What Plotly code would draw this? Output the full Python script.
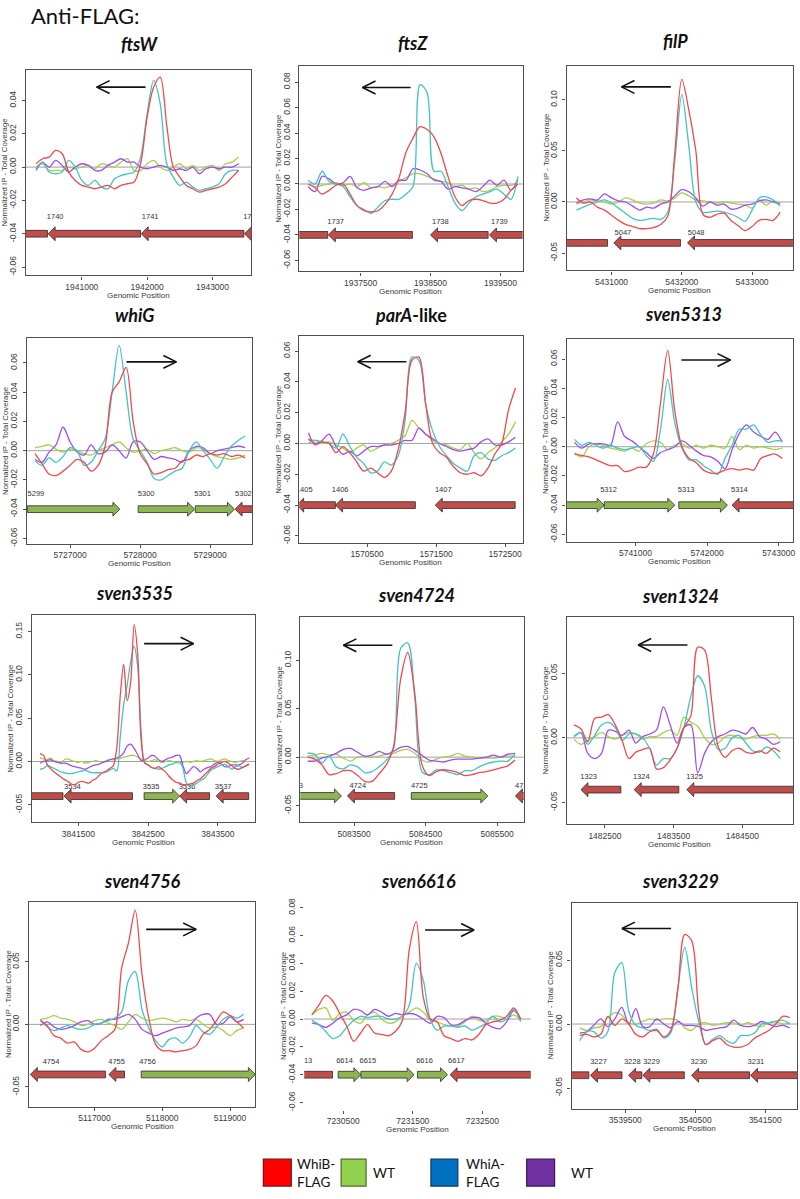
import plotly.graph_objects as go

W, H = 800, 1199

# ======================= DATA =======================
# Each panel: sampling grid (start, step), four coverage series,
# genes (start, end, strand), gene labels (text, position), transcription arrow (tail, head, level)

# ---- ftsW ----
ftsW_start, ftsW_step = 1940300, 100
ftsW_whib = [0.002, 0.005, 0.006, 0.010, 0.008, -0.003, -0.008, -0.011, -0.012, -0.013, -0.012, -0.011, -0.013, -0.011, -0.010, -0.009,
             0.002, 0.030, 0.048, 0.054, 0.025, 0.000, -0.006, -0.011, -0.013, -0.015, -0.014, -0.013, -0.012, -0.010, -0.006, -0.002]
ftsW_wt1 = [0.000, 0.002, -0.002, -0.002, -0.002, 0.000, -0.001, 0.000, 0.001, -0.001, 0.002, 0.001, 0.000, 0.003, 0.005, -0.002,
            -0.002, 0.002, 0.004, 0.000, -0.002, 0.000, 0.002, -0.001, 0.001, -0.002, 0.000, 0.001, -0.002, 0.002, 0.003, 0.006]
ftsW_whia = [-0.001, 0.003, -0.003, -0.004, -0.003, 0.004, 0.000, -0.008, -0.011, -0.008, -0.012, -0.013, -0.007, -0.005, -0.004, -0.003,
             0.006, 0.032, 0.052, 0.038, 0.002, -0.006, -0.011, -0.009, -0.012, -0.014, -0.013, -0.012, -0.010, -0.004, -0.002, -0.002]
ftsW_wt2 = [-0.002, 0.003, 0.000, 0.004, 0.001, -0.003, 0.000, 0.002, 0.001, -0.002, -0.002, 0.001, 0.003, 0.005, 0.003, 0.003,
            0.000, -0.001, 0.000, 0.001, 0.000, -0.002, -0.001, -0.002, 0.000, -0.004, -0.001, 0.000, -0.001, 0.000, 0.000, 0.002]
ftsW_genes = [(1939500, 1940475, -1), (1940485, 1941899, -1), (1941909, 1943480, -1), (1943490, 1944500, -1)]
ftsW_labels = [("1740", 1940495), ("1741", 1941949), ("1742", 1943500)]
ftsW_arrow = (1941975, 1941227, 0.048)

# ---- ftsZ ----
ftsZ_start, ftsZ_step = 1936750, 100
ftsZ_whib = [0.000, -0.003, -0.008, -0.005, -0.001, 0.000, -0.008, -0.017, -0.021, -0.022, -0.021, -0.016, -0.008, 0.005, 0.025, 0.036,
             0.045, 0.043, 0.037, 0.024, 0.006, -0.010, -0.017, -0.013, -0.012, -0.013, -0.015, -0.015, -0.012, -0.005, 0.000]
ftsZ_wt1 = [0.000, -0.002, -0.001, 0.000, 0.001, -0.001, 0.000, -0.002, 0.001, -0.003, -0.002, -0.003, -0.001, 0.002, 0.005, 0.008,
            0.008, 0.006, 0.004, 0.002, 0.001, -0.002, -0.001, -0.004, -0.003, -0.006, -0.005, -0.002, -0.001, -0.001, 0.002]
ftsZ_whia = [0.003, 0.000, 0.010, 0.002, 0.000, -0.002, -0.010, -0.017, -0.020, -0.023, -0.018, -0.013, -0.012, -0.012, -0.008, -0.002,
             0.078, 0.072, 0.010, 0.010, -0.002, -0.015, -0.021, -0.015, -0.010, -0.008, -0.006, -0.004, -0.008, -0.012, 0.006]
ftsZ_wt2 = [-0.002, -0.006, 0.006, 0.004, 0.000, 0.001, 0.006, -0.003, -0.005, -0.003, -0.002, 0.002, -0.002, 0.003, 0.003, 0.012,
            0.011, 0.008, 0.003, 0.002, -0.004, -0.002, -0.003, -0.004, -0.006, -0.002, 0.003, -0.001, 0.003, -0.005, 0.004]
ftsZ_genes = [(1936000, 1937030, -1), (1937039, 1938241, -1), (1938500, 1939324, -1), (1939343, 1940200, -1)]
ftsZ_labels = [("1737", 1937053), ("1738", 1938550), ("1739", 1939395)]
ftsZ_arrow = (1938215, 1937528, 0.0758)

# ---- filP ----
filP_start, filP_step = 5430500, 100
filP_whib = [0.004, -0.001, 0.000, -0.005, -0.008, -0.013, -0.018, -0.022, -0.024, -0.026, -0.026, -0.025, -0.022, -0.014, 0.048,
             0.120, 0.090, 0.050, -0.012, -0.015, -0.012, -0.011, -0.018, -0.023, -0.028, -0.024, -0.018, -0.017, -0.018, -0.010]
filP_wt1 = [-0.002, 0.000, 0.002, 0.001, 0.000, -0.002, 0.000, 0.004, 0.002, -0.001, -0.002, -0.001, 0.002, 0.001, 0.004,
            0.009, 0.006, 0.002, 0.001, 0.000, -0.001, 0.000, -0.001, -0.002, -0.003, -0.006, 0.002, -0.003, 0.001, -0.001]
filP_whia = [-0.008, -0.005, -0.002, 0.000, 0.002, -0.001, -0.006, -0.011, -0.016, -0.018, -0.017, -0.016, -0.017, -0.010, 0.040,
             0.105, 0.055, 0.000, -0.010, -0.010, -0.009, -0.010, -0.012, -0.015, -0.019, -0.008, 0.004, 0.005, 0.002, -0.004]
filP_wt2 = [-0.001, 0.002, 0.003, 0.002, 0.008, 0.004, 0.001, 0.000, -0.004, -0.008, -0.005, -0.006, -0.002, 0.000, 0.006,
            0.012, 0.010, 0.004, -0.004, 0.000, -0.003, -0.002, -0.007, -0.006, -0.003, -0.002, 0.001, 0.002, 0.000, -0.002]
filP_genes = [(5430000, 5430943, -1), (5431033, 5431981, -1), (5432081, 5434000, -1)]
filP_labels = [("5047", 5431071), ("5048", 5432114)]
filP_arrow = (5431844, 5431142, 0.1127)

# ---- whiG ----
whiG_start, whiG_step = 5726500, 100
whiG_whib = [-0.002, -0.009, -0.016, -0.017, -0.014, -0.010, -0.006, -0.008, -0.014, -0.010, 0.003, 0.040, 0.047, 0.057, 0.020, -0.002,
             -0.009, -0.016, -0.015, -0.013, -0.012, -0.007, -0.006, -0.003, -0.004, -0.002, -0.003, -0.002, -0.004, -0.003, -0.005]
whiG_wt1 = [0.002, 0.003, 0.004, 0.001, -0.001, 0.001, 0.000, -0.002, -0.003, 0.000, 0.002, 0.004, 0.006, 0.002, -0.001, 0.000,
            0.001, -0.002, 0.000, 0.001, 0.002, 0.000, -0.001, 0.002, 0.001, -0.002, -0.004, -0.005, -0.006, -0.005, -0.003]
whiG_whia = [-0.007, -0.010, -0.005, -0.008, -0.004, 0.002, 0.000, -0.010, -0.008, 0.000, 0.008, 0.040, 0.072, 0.040, 0.008, 0.000,
             -0.008, -0.019, -0.020, -0.017, -0.014, -0.012, 0.000, 0.006, 0.000, -0.006, -0.012, -0.004, 0.003, 0.007, 0.010]
whiG_wt2 = [-0.006, -0.008, -0.001, 0.004, 0.016, 0.006, -0.001, -0.003, 0.004, -0.002, -0.001, 0.004, 0.000, -0.005, 0.006, 0.006,
            0.000, -0.006, -0.004, -0.005, -0.006, -0.008, 0.000, 0.003, 0.002, -0.002, 0.000, 0.001, 0.002, 0.003, 0.002]
whiG_genes = [(5726390, 5727711, 1), (5727972, 5728777, 1), (5728787, 5729346, 1), (5729355, 5730200, -1)]
whiG_labels = [("5299", 5726422), ("5300", 5727995), ("5301", 5728801), ("5302", 5729384)]
whiG_arrow = (5727806, 5728517, 0.0607)

# ---- parA-like ----
parA_start, parA_step = 1569650, 100
parA_whib = [0.003, 0.000, 0.001, 0.000, -0.006, -0.002, -0.006, -0.012, -0.018, -0.016, -0.019, -0.022, -0.018, -0.004, 0.020, 0.054,
             0.056, 0.025, 0.000, -0.006, -0.009, -0.015, -0.019, -0.020, -0.019, -0.021, -0.016, -0.007, 0.000, 0.022, 0.036]
parA_wt1 = [0.002, 0.002, 0.000, 0.001, -0.001, -0.003, -0.006, -0.003, -0.001, -0.005, -0.003, -0.001, 0.000, 0.002, 0.005, 0.015,
            0.010, 0.006, 0.002, 0.000, -0.001, -0.003, -0.004, 0.000, -0.006, -0.010, -0.006, -0.003, 0.001, 0.006, 0.014]
parA_whia = [0.000, 0.002, 0.001, 0.000, -0.003, 0.006, -0.002, -0.009, -0.013, -0.019, -0.018, -0.012, -0.014, -0.008, 0.015, 0.056,
             0.054, 0.025, 0.008, -0.002, -0.008, -0.013, -0.016, -0.018, -0.008, -0.006, -0.010, -0.011, -0.008, -0.006, -0.003]
parA_wt2 = [0.007, -0.001, 0.002, 0.006, -0.002, -0.007, -0.005, -0.008, -0.005, -0.002, -0.002, -0.001, -0.001, 0.000, 0.002, 0.002,
            0.010, 0.006, 0.003, 0.000, -0.002, -0.004, -0.005, -0.004, -0.003, 0.001, 0.003, -0.001, -0.001, 0.001, 0.004]
parA_genes = [(1569480, 1570040, -1), (1570042, 1571199, -1), (1571488, 1572645, -1)]
parA_labels = [("1405", 1569498), ("1406", 1570018), ("1407", 1571512)]
parA_arrow = (1571069, 1570365, 0.053)

# ---- sven5313 ----
s5313_start, s5313_step = 5740150, 100
s5313_whib = [-0.005, -0.006, -0.007, -0.009, -0.011, -0.013, -0.013, -0.017, -0.016, -0.014, -0.014, -0.005, 0.030, 0.066, 0.024,
              0.000, -0.008, -0.011, -0.016, -0.018, -0.018, -0.016, -0.015, -0.016, -0.015, -0.016, -0.008, -0.006, -0.005, -0.008]
s5313_wt1 = [-0.004, -0.007, 0.000, 0.002, 0.001, -0.001, -0.002, -0.003, -0.001, -0.003, 0.002, 0.004, 0.003, -0.002, 0.001,
             0.002, -0.001, 0.001, -0.001, 0.001, 0.000, -0.001, 0.007, -0.002, 0.001, -0.001, 0.000, -0.001, -0.002, -0.001]
s5313_whia = [0.005, 0.001, 0.003, 0.001, -0.001, 0.001, -0.001, -0.002, -0.001, 0.000, -0.006, -0.010, 0.012, 0.046, 0.016,
              -0.001, -0.009, -0.009, -0.013, -0.016, -0.019, -0.008, 0.001, 0.012, 0.012, 0.015, 0.008, 0.003, 0.004, 0.004]
s5313_wt2 = [0.003, -0.001, 0.002, 0.002, 0.002, 0.001, 0.017, 0.007, 0.004, 0.000, -0.004, -0.008, -0.004, -0.002, 0.000,
             0.004, 0.001, -0.003, -0.006, -0.007, -0.010, -0.015, -0.002, 0.009, 0.015, 0.010, 0.007, 0.005, 0.010, 0.003]
s5313_genes = [(5739900, 5740563, 1), (5740563, 5741549, 1), (5741605, 5742284, 1), (5742349, 5743600, -1)]
s5313_labels = [("5312", 5740535), ("5313", 5741619), ("5314", 5742363)]
s5313_arrow = (5741642, 5742326, 0.0593)

# ---- sven3535 ----
s3535_start, s3535_step = 3840950, 50
s3535_whib = [0.009, 0.007, -0.003, -0.008, -0.012, -0.015, -0.018, -0.021, -0.023, -0.026,
              -0.027, -0.024, -0.023, -0.024, -0.025, -0.022, -0.020, -0.016, -0.013, -0.011,
              -0.008, -0.005, 0.015, 0.075, 0.112, 0.070, 0.092, 0.158, 0.125, 0.025,
              -0.002, -0.004, -0.007, -0.008, -0.006, -0.009, -0.012, -0.017, -0.021, -0.024,
              -0.025, -0.027, -0.027, -0.026, -0.025, -0.022, -0.020, -0.016, -0.012, -0.008,
              -0.006, -0.003, -0.001, 0.000, -0.002, -0.005, -0.008, -0.009, -0.007, -0.005, -0.003]
s3535_wt1 = [0.004, 0.003, 0.002, 0.004, 0.001, 0.000, -0.001, 0.002, 0.003, 0.001,
             0.000, -0.001, 0.000, -0.002, -0.001, 0.000, 0.001, 0.000, -0.001, 0.001,
             0.002, 0.002, 0.003, 0.004, 0.005, 0.006, 0.007, 0.007, 0.005, 0.003,
             0.001, 0.000, 0.001, 0.002, 0.000, -0.001, 0.000, 0.001, 0.000, -0.001,
             -0.002, -0.001, 0.000, -0.001, 0.000, 0.001, 0.000, 0.001, 0.002, 0.003,
             0.001, 0.000, 0.002, 0.003, 0.001, 0.000, -0.001, 0.000, 0.001, 0.000, 0.000]
s3535_whia = [-0.009, -0.008, -0.005, -0.006, -0.008, -0.010, -0.012, -0.013, -0.014, -0.014,
              -0.013, -0.012, -0.011, -0.010, -0.012, -0.013, -0.013, -0.013, -0.013, -0.012,
              -0.010, -0.008, -0.011, 0.028, 0.066, 0.088, 0.115, 0.133, 0.110, 0.035,
              -0.001, -0.004, -0.007, -0.008, -0.009, -0.008, -0.006, -0.004, -0.003, -0.001,
              0.000, -0.008, -0.025, -0.028, -0.027, -0.025, -0.022, -0.020, -0.015, -0.010,
              -0.008, -0.006, -0.004, -0.003, -0.006, -0.009, -0.006, -0.005, -0.007, -0.005, -0.003]
s3535_wt2 = [-0.002, 0.000, 0.001, 0.002, 0.000, -0.001, -0.002, -0.002, -0.003, -0.005,
             -0.006, -0.007, -0.008, -0.009, -0.007, -0.005, -0.004, -0.003, -0.001, 0.000,
             0.002, 0.003, 0.004, 0.006, 0.010, 0.018, 0.020, 0.015, 0.008, 0.001,
             0.002, 0.004, 0.007, 0.006, 0.002, 0.000, 0.002, 0.004, 0.005, 0.007,
             0.007, -0.005, -0.014, -0.010, -0.006, -0.008, -0.012, -0.009, -0.007, -0.006,
             -0.003, -0.001, -0.003, -0.006, -0.006, -0.004, -0.004, -0.004, -0.002, 0.002, 0.004]
s3535_genes = [(3840700, 3841280, -1), (3841295, 3842276, -1), (3842443, 3842952, 1), (3842952, 3843381, -1), (3843476, 3843943, -1)]
s3535_labels = [("3534", 3841324), ("3535", 3842452), ("3536", 3842967), ("3537", 3843486)]
s3535_arrow = (3842443, 3843152, 0.136)

# ---- sven4724 ----
s4724_start, s4724_step = 5082850, 100
s4724_whib = [0.000, -0.002, -0.008, -0.018, -0.017, -0.014, -0.014, -0.019, -0.025, -0.025, -0.017, -0.008, 0.010, 0.080, 0.108,
              0.065, -0.008, -0.019, -0.015, -0.013, -0.014, -0.016, -0.019, -0.018, -0.016, -0.015, -0.013, -0.011, -0.009, -0.003]
s4724_wt1 = [0.001, 0.002, 0.004, 0.002, 0.003, -0.001, -0.004, 0.000, 0.001, 0.000, 0.001, 0.003, 0.004, 0.007, 0.008,
             0.004, -0.003, -0.005, -0.002, 0.000, 0.001, 0.004, 0.001, 0.000, -0.001, -0.001, -0.001, 0.000, 0.001, 0.001]
s4724_whia = [0.004, 0.003, -0.006, 0.001, -0.010, -0.012, -0.008, -0.010, -0.016, -0.015, -0.010, -0.003, 0.008, 0.112, 0.118,
              0.060, -0.015, -0.018, -0.013, -0.014, -0.016, -0.018, -0.014, -0.014, -0.010, -0.007, -0.005, -0.004, -0.004, 0.003]
s4724_wt2 = [-0.004, -0.004, -0.001, 0.001, 0.004, 0.008, 0.009, 0.005, 0.001, 0.002, 0.006, 0.003, 0.006, 0.010, 0.011,
             0.007, 0.002, -0.003, -0.004, -0.005, -0.003, -0.002, -0.002, -0.002, -0.001, 0.000, 0.002, 0.000, 0.003, 0.004]
s4724_genes = [(5082300, 5083323, 1), (5083407, 5084067, -1), (5084300, 5085370, 1), (5085756, 5086500, -1)]
s4724_labels = [("4723", 5082579), ("4724", 5083463), ("4725", 5084323), ("4726", 5085779)]
s4724_arrow = (5084035, 5083351, 0.1154)

# ---- sven1324 ----
s1324_start, s1324_step = 1482050, 100
s1324_whib = [0.010, 0.007, -0.003, 0.015, 0.016, 0.018, 0.010, -0.002, -0.016, -0.011, -0.009, -0.008, -0.024, -0.023, -0.017, -0.008,
              0.008, 0.017, 0.070, 0.068, 0.030, -0.007, -0.015, -0.010, -0.008, -0.011, -0.012, -0.010, -0.012, -0.008, -0.011]
s1324_wt1 = [-0.001, -0.005, -0.002, 0.001, 0.004, 0.001, -0.001, 0.002, 0.004, 0.003, -0.001, 0.001, 0.001, 0.004, 0.006, 0.002,
             0.016, 0.012, 0.009, 0.000, -0.005, -0.004, 0.001, 0.002, 0.000, -0.001, 0.001, 0.002, 0.002, 0.003, -0.001]
s1324_whia = [0.001, 0.004, -0.005, 0.002, 0.010, 0.012, 0.008, -0.002, 0.003, 0.003, 0.000, -0.008, -0.021, -0.016, -0.016, -0.008,
              0.008, 0.032, 0.048, 0.040, 0.005, -0.009, -0.008, 0.000, 0.002, -0.004, -0.010, -0.011, -0.007, -0.010, -0.016]
s1324_wt2 = [0.001, 0.004, -0.012, -0.016, -0.012, 0.006, 0.005, 0.002, 0.006, -0.004, 0.001, 0.003, 0.006, 0.024, 0.010, -0.004,
             0.008, 0.010, -0.027, -0.012, -0.003, 0.001, 0.003, 0.006, 0.005, 0.003, 0.008, 0.001, -0.001, -0.005, -0.003]
s1324_genes = [(1482151, 1482732, -1), (1482926, 1483575, -1), (1483691, 1485600, -1)]
s1324_labels = [("1323", 1482171), ("1324", 1482936), ("1325", 1483711)]
s1324_arrow = (1483701, 1482984, 0.0718)

# ---- sven4756 ----
s4756_start, s4756_step = 5116200, 100
s4756_whib = [0.003, -0.001, -0.009, -0.011, -0.015, -0.014, -0.020, -0.022, -0.019, -0.013, -0.009, -0.004, 0.045, 0.065, 0.091, 0.040,
              0.005, -0.016, -0.021, -0.021, -0.022, -0.021, -0.020, -0.017, -0.008, -0.004, 0.003, 0.010, 0.007, 0.002, -0.003]
s4756_wt1 = [0.004, 0.005, 0.007, 0.005, 0.004, 0.002, -0.001, 0.000, 0.003, 0.004, 0.001, -0.001, -0.004, 0.002, 0.008, 0.005,
             0.003, 0.004, 0.005, 0.004, 0.002, 0.004, 0.003, 0.004, 0.000, -0.003, -0.002, -0.005, -0.009, -0.005, -0.003]
s4756_whia = [0.004, -0.002, -0.005, -0.003, -0.001, -0.003, -0.004, -0.003, 0.000, 0.001, 0.003, 0.005, 0.010, 0.035, 0.042, 0.012,
              -0.003, -0.013, -0.018, -0.012, -0.011, -0.015, -0.010, -0.001, -0.006, -0.008, -0.002, 0.004, 0.007, 0.005, 0.008]
s4756_wt2 = [-0.001, 0.002, -0.002, -0.004, -0.003, -0.001, 0.002, 0.003, 0.000, 0.001, 0.004, 0.004, 0.006, 0.008, 0.004, -0.004,
             -0.007, -0.009, -0.007, -0.005, -0.003, -0.002, -0.001, 0.005, 0.008, 0.008, 0.000, 0.001, 0.006, 0.002, 0.004]
s4756_genes = [(5116052, 5117162, -1), (5117211, 5117442, -1), (5117688, 5119373, 1)]
s4756_labels = [("4754", 5116263), ("4755", 5117231), ("4756", 5117688)]
s4756_arrow = (5117762, 5118499, 0.0758)

# ---- sven6616 ----
s6616_start, s6616_step = 7230050, 100
s6616_whib = [0.003, 0.010, 0.017, 0.013, 0.004, -0.005, -0.016, -0.010, -0.004, -0.010, -0.011, -0.012, -0.009, -0.001, 0.050, 0.070,
              0.016, 0.000, -0.002, -0.012, -0.014, -0.016, -0.014, -0.015, -0.011, -0.004, -0.002, -0.001, 0.002, 0.008, 0.000]
s6616_wt1 = [0.003, 0.007, 0.008, -0.001, 0.004, 0.005, -0.001, -0.003, 0.003, 0.005, 0.000, -0.003, -0.002, 0.002, 0.005, 0.008,
             0.005, -0.001, -0.002, -0.004, -0.005, -0.005, -0.002, 0.002, -0.001, -0.001, 0.002, 0.002, 0.000, 0.003, -0.001]
s6616_whia = [-0.001, -0.004, -0.009, -0.014, -0.012, -0.006, -0.001, 0.002, 0.001, 0.002, 0.002, 0.000, 0.000, 0.002, 0.010, 0.040,
              0.028, 0.000, -0.008, -0.005, -0.005, -0.006, -0.005, -0.008, -0.006, -0.003, 0.002, -0.002, 0.000, 0.007, -0.002]
s6616_wt2 = [-0.003, -0.004, -0.006, -0.003, 0.001, 0.003, 0.007, 0.006, 0.003, 0.007, 0.005, 0.002, 0.004, 0.003, 0.004, 0.003,
             0.000, -0.003, 0.002, 0.001, -0.004, -0.004, -0.001, 0.001, 0.001, -0.003, -0.006, -0.007, -0.002, 0.006, 0.000]
s6616_genes = [(7229500, 7230347, -1), (7230428, 7230754, 1), (7230754, 7231519, 1), (7231567, 7231998, 1), (7232036, 7233200, -1)]
s6616_labels = [("6613", 7229844), ("6614", 7230428), ("6615", 7230763), ("6616", 7231577), ("6617", 7232036)]
s6616_arrow = (7231677, 7232380, 0.064)

# ---- sven3229 ----
s3229_start, s3229_step = 3538850, 100
s3229_whib = [-0.009, -0.008, -0.010, -0.008, 0.006, -0.001, 0.004, 0.000, -0.008, -0.010, -0.006, -0.005, -0.010, -0.005, 0.026, 0.070,
              0.065, 0.010, -0.016, -0.013, -0.011, -0.016, -0.018, -0.018, -0.016, -0.011, -0.008, -0.005, 0.000, 0.006, 0.005]
s3229_wt1 = [-0.003, -0.005, -0.003, -0.002, 0.005, 0.009, 0.007, 0.001, 0.000, 0.002, 0.004, 0.003, 0.004, 0.004, 0.003, -0.003,
             -0.005, 0.000, 0.001, -0.001, 0.000, 0.001, 0.001, -0.001, 0.001, -0.001, -0.002, 0.001, 0.002, 0.000, 0.001]
s3229_whia = [-0.013, -0.006, -0.006, -0.011, -0.006, 0.040, 0.048, 0.010, -0.001, -0.003, -0.005, -0.004, -0.011, -0.007, 0.028, 0.060,
              0.028, 0.002, -0.016, -0.012, -0.009, -0.013, -0.015, -0.009, -0.009, -0.007, 0.000, 0.001, 0.002, 0.003, 0.000]
s3229_wt2 = [-0.007, -0.006, -0.001, 0.004, -0.002, 0.004, 0.013, 0.000, 0.012, -0.002, -0.002, 0.004, 0.000, -0.003, 0.002, -0.001,
             -0.001, -0.002, -0.005, -0.004, -0.003, -0.002, 0.003, -0.001, -0.002, -0.001, 0.002, 0.000, -0.002, -0.001, -0.003]
s3229_genes = [(3538000, 3538979, -1), (3539002, 3539453, -1), (3539547, 3539737, -1), (3539751, 3540344, -1),
               (3540448, 3541277, -1), (3541291, 3542500, -1)]
s3229_labels = [("3227", 3539026), ("3228", 3539509), ("3229", 3539784), ("3230", 3540462), ("3231", 3541277)]
s3229_arrow = (3540154, 3539453, 0.0746)

legend_names = ["WhiB-<br>FLAG", "WT", "WhiA-<br>FLAG", "WT"]

# ======================= LAYOUT CONFIG =======================
# box: pixel box (left, right, top, bottom); xr/yr: axis ranges; tpos: title centre (px)
PANELS = [
    dict(title="<b><i>ftsW</i></b>", tpos=(140, 40), box=(26, 252, 66, 273), xr=(1940145, 1943595), yr=(-0.065, 0.0585),
         xt=[1941000, 1942000, 1943000], yt=[-0.06, -0.04, -0.02, 0.0, 0.02, 0.04],
         start=ftsW_start, step=ftsW_step, whib=ftsW_whib, wt1=ftsW_wt1, whia=ftsW_whia, wt2=ftsW_wt2,
         genes=ftsW_genes, labels=ftsW_labels, arrow=ftsW_arrow),
    dict(title="<b><i>ftsZ</i></b>", tpos=(414, 39), box=(300, 524, 62, 269), xr=(1936623, 1939818), yr=(-0.0687, 0.093),
         xt=[1937500, 1938500, 1939500], yt=[-0.06, -0.04, -0.02, 0.0, 0.02, 0.04, 0.06, 0.08],
         start=ftsZ_start, step=ftsZ_step, whib=ftsZ_whib, wt1=ftsZ_wt1, whia=ftsZ_whia, wt2=ftsZ_wt2,
         genes=ftsZ_genes, labels=ftsZ_labels, arrow=ftsZ_arrow),
    dict(title="<b><i>filP</i></b>", tpos=(677, 37), box=(568, 795, 62, 268), xr=(5430360, 5433583), yr=(-0.067, 0.1335),
         xt=[5431000, 5432000, 5433000], yt=[-0.05, 0.0, 0.05, 0.10],
         start=filP_start, step=filP_step, whib=filP_whib, wt1=filP_wt1, whia=filP_whia, wt2=filP_wt2,
         genes=filP_genes, labels=filP_labels, arrow=filP_arrow),
    dict(title="<b><i>whiG</i></b>", tpos=(135, 313), box=(27, 253, 336, 543), xr=(5726384, 5729602), yr=(-0.0637, 0.077),
         xt=[5727000, 5728000, 5729000], yt=[-0.06, -0.04, -0.02, 0.0, 0.02, 0.04, 0.06],
         start=whiG_start, step=whiG_step, whib=whiG_whib, wt1=whiG_wt1, whia=whiG_whia, wt2=whiG_wt2,
         genes=whiG_genes, labels=whiG_labels, arrow=whiG_arrow),
    dict(title="<b><i>parA</i>-like</b>", tpos=(412, 313), box=(300, 524, 334, 542), xr=(1569517, 1572754), yr=(-0.0645, 0.0697),
         xt=[1570500, 1571500, 1572500], yt=[-0.06, -0.04, -0.02, 0.0, 0.02, 0.04, 0.06],
         start=parA_start, step=parA_step, whib=parA_whib, wt1=parA_wt1, whia=parA_whia, wt2=parA_wt2,
         genes=parA_genes, labels=parA_labels, arrow=parA_arrow),
    dict(title="<b><i>sven5313</i></b>", tpos=(685, 312), box=(568, 795, 337, 541), xr=(5740038, 5743200), yr=(-0.0651, 0.0737),
         xt=[5741000, 5742000, 5743000], yt=[-0.06, -0.04, -0.02, 0.0, 0.02, 0.04, 0.06],
         start=s5313_start, step=s5313_step, whib=s5313_whib, wt1=s5313_wt1, whia=s5313_whia, wt2=s5313_wt2,
         genes=s5313_genes, labels=s5313_labels, arrow=s5313_arrow),
    dict(title="<b><i>sven3535</i></b>", tpos=(135, 592), box=(32, 256, 615, 823), xr=(3840834, 3844038), yr=(-0.0701, 0.1686),
         xt=[3841500, 3842500, 3843500], yt=[-0.05, 0.0, 0.05, 0.10, 0.15],
         start=s3535_start, step=s3535_step, whib=s3535_whib, wt1=s3535_wt1, whia=s3535_whia, wt2=s3535_wt2,
         genes=s3535_genes, labels=s3535_labels, arrow=s3535_arrow),
    dict(title="<b><i>sven4724</i></b>", tpos=(418, 594), box=(301, 525, 617, 823), xr=(5082747, 5085872), yr=(-0.0671, 0.1442),
         xt=[5083500, 5084500, 5085500], yt=[-0.05, 0.0, 0.05, 0.10],
         start=s4724_start, step=s4724_step, whib=s4724_whib, wt1=s4724_wt1, whia=s4724_whia, wt2=s4724_wt2,
         genes=s4724_genes, labels=s4724_labels, arrow=s4724_arrow),
    dict(title="<b><i>sven1324</i></b>", tpos=(682, 595), box=(568, 795, 617, 825), xr=(1481942, 1485237), yr=(-0.0667, 0.0931),
         xt=[1482500, 1483500, 1484500], yt=[-0.05, 0.0, 0.05],
         start=s1324_start, step=s1324_step, whib=s1324_whib, wt1=s1324_wt1, whia=s1324_whia, wt2=s1324_wt2,
         genes=s1324_genes, labels=s1324_labels, arrow=s1324_arrow),
    dict(title="<b><i>sven4756</i></b>", tpos=(143, 882), box=(29, 256, 903, 1109), xr=(5116031, 5119373), yr=(-0.0656, 0.0979),
         xt=[5117000, 5118000, 5119000], yt=[-0.05, 0.0, 0.05],
         start=s4756_start, step=s4756_step, whib=s4756_whib, wt1=s4756_wt1, whia=s4756_whia, wt2=s4756_wt2,
         genes=s4756_genes, labels=s4756_labels, arrow=s4756_arrow),
    dict(title="<b><i>sven6616</i></b>", tpos=(420, 882), box=(305, 532, 903, 1112), xr=(7229940, 7233194), yr=(-0.065, 0.0843),
         xt=[7230500, 7231500, 7232500], yt=[-0.06, -0.04, -0.02, 0.0, 0.02, 0.04, 0.06, 0.08], frame=False,
         start=s6616_start, step=s6616_step, whib=s6616_whib, wt1=s6616_wt1, whia=s6616_whia, wt2=s6616_wt2,
         genes=s6616_genes, labels=s6616_labels, arrow=s6616_arrow),
    dict(title="<b><i>sven3229</i></b>", tpos=(682, 882), box=(573, 799, 904, 1111), xr=(3538732, 3541955), yr=(-0.066, 0.0948),
         xt=[3539500, 3540500, 3541500], yt=[-0.05, 0.0, 0.05],
         start=s3229_start, step=s3229_step, whib=s3229_whib, wt1=s3229_wt1, whia=s3229_whia, wt2=s3229_wt2,
         genes=s3229_genes, labels=s3229_labels, arrow=s3229_arrow),
]

# styles
C_WHIB, C_WT1, C_WHIA, C_WT2 = "#EF4A4C", "#A5D04C", "#43C3C6", "#A04DEE"
GENE_RED, GENE_GREEN, GENE_EDGE = "#BF4D4A", "#8EB552", "#2A2A2A"
FRAME, TICK = "#505050", "#3A3A3A"
GENE_Y, LABEL_Y = -0.040, -0.030
BODY_H, HEAD_H, HEAD_L = 3.4, 7.0, 7.0          # px
ARR_HL, ARR_HH = 13.0, 6.5                        # px


def yfmt(v):
    s = f"{v:.2f}"
    return "0.00" if s == "-0.00" else s


fig = go.Figure()
layout = dict(width=W, height=H, margin=dict(l=0, r=0, t=0, b=0), paper_bgcolor="white", plot_bgcolor="white",
              showlegend=False, font=dict(family="Liberation Sans", color=TICK))
shapes, annotations = [], []

for k, p in enumerate(PANELS, start=1):
    sfx = "" if k == 1 else str(k)
    xa, ya = "x" + sfx, "y" + sfx
    L, R, T, B = p["box"]
    x0, x1 = p["xr"]
    y0, y1 = p["yr"]
    bp_px = (x1 - x0) / (R - L)
    y_px = (y1 - y0) / (B - T)
    frame = p.get("frame", True)
    common = dict(showgrid=False, zeroline=False, showline=frame, mirror=frame, linecolor=FRAME, linewidth=1.4,
                  ticks="outside", ticklen=3, tickwidth=1, tickcolor=FRAME, fixedrange=True,
                  tickfont=dict(size=8.5, color=TICK, family="Liberation Sans"))
    layout["xaxis" + sfx] = dict(domain=[L / W, R / W], anchor=ya, range=[x0, x1],
                                 tickvals=p["xt"], ticktext=[str(v) for v in p["xt"]], **common)
    layout["yaxis" + sfx] = dict(domain=[1 - B / H, 1 - T / H], anchor=xa, range=[y0, y1], tickangle=-90,
                                 tickvals=p["yt"], ticktext=[yfmt(v) for v in p["yt"]], ticklabelstandoff=2, **common)

    # zero line
    shapes.append(dict(type="line", xref=xa + " domain", x0=0, x1=1, yref=ya, y0=0, y1=0,
                       line=dict(color="#A0A0A0", width=1), layer="below"))

    # genes
    for strand, fill in ((-1, GENE_RED), (1, GENE_GREEN)):
        gx, gy = [], []
        for g0, g1, s in p["genes"]:
            if s != strand:
                continue
            hl = min(HEAD_L * bp_px, g1 - g0)
            if s < 0:
                pts = [(g0, 0), (g0 + hl, HEAD_H), (g0 + hl, BODY_H), (g1, BODY_H), (g1, -BODY_H),
                       (g0 + hl, -BODY_H), (g0 + hl, -HEAD_H), (g0, 0)]
            else:
                pts = [(g1, 0), (g1 - hl, HEAD_H), (g1 - hl, BODY_H), (g0, BODY_H), (g0, -BODY_H),
                       (g1 - hl, -BODY_H), (g1 - hl, -HEAD_H), (g1, 0)]
            gx += [a for a, _ in pts] + [None]
            gy += [GENE_Y + b * y_px for _, b in pts] + [None]
        if gx:
            fig.add_trace(go.Scatter(x=gx, y=gy, mode="lines", fill="toself", fillcolor=fill,
                                     line=dict(color=GENE_EDGE, width=0.8), xaxis=xa, yaxis=ya, hoverinfo="skip"))

    # gene labels
    fig.add_trace(go.Scatter(x=[pos - 2 * bp_px for _, pos in p["labels"]], y=[LABEL_Y] * len(p["labels"]),
                             text=[t for t, _ in p["labels"]], mode="text", textposition="middle right",
                             textfont=dict(size=7.5, color="#333333", family="Liberation Sans"),
                             cliponaxis=True, xaxis=xa, yaxis=ya, hoverinfo="skip"))

    # coverage series
    xs = [p["start"] + p["step"] * i for i in range(len(p["whib"]))]
    for key, col in (("wt1", C_WT1), ("wt2", C_WT2), ("whia", C_WHIA), ("whib", C_WHIB)):
        fig.add_trace(go.Scatter(x=xs, y=p[key], mode="lines", line=dict(color=col, width=1.3, shape="spline",
                                                                          smoothing=0.9),
                                 xaxis=xa, yaxis=ya, hoverinfo="skip"))

    # transcription direction arrow
    tail, head, lvl = p["arrow"]
    d = 1 if tail > head else -1
    cx = head + d * ARR_HL * bp_px
    dy = ARR_HH * y_px
    fig.add_trace(go.Scatter(x=[tail, head, None, cx, head, cx], y=[lvl, lvl, None, lvl + dy, lvl, lvl - dy],
                             mode="lines", line=dict(color="#111111", width=1.6), xaxis=xa, yaxis=ya, hoverinfo="skip"))

    # titles
    tx, ty = p["tpos"]
    annotations.append(dict(x=tx / W, y=1 - ty / H, xref="paper", yref="paper", text=p["title"], showarrow=False,
                            xanchor="center", yanchor="middle", font=dict(family="Lato", size=18, color="#111111")))
    annotations.append(dict(x=(L - 21) / W, y=1 - (T + B) / 2 / H, xref="paper", yref="paper",
                            text="Normalized IP - Total Coverage", textangle=-90, showarrow=False,
                            xanchor="center", yanchor="middle", font=dict(size=7.8, color=TICK)))
    annotations.append(dict(x=(L + R) / 2 / W, y=1 - (B + 20) / H, xref="paper", yref="paper",
                            text="Genomic Position", showarrow=False, xanchor="center", yanchor="middle",
                            font=dict(size=8, color=TICK)))

# header
annotations.append(dict(x=29 / W, y=1 - 12 / H, xref="paper", yref="paper", text="Anti-FLAG:", showarrow=False,
                        xanchor="left", yanchor="middle", font=dict(family="Lato", size=22, color="#111111")))

# legend (drawn)
legend_boxes = [(264, 292, "#FF0000", "#7A1010"), (342, 367, "#92D050", "#4F6B2A"),
                (432, 459, "#0070C0", "#0A3A66"), (528, 556, "#7030A0", "#3A1856")]
legend_text_x = [296, 372, 465, 570]
for (bx0, bx1, fc, lc), name, txx in zip(legend_boxes, legend_names, legend_text_x):
    shapes.append(dict(type="rect", xref="paper", yref="paper", x0=bx0 / W, x1=bx1 / W, y0=1 - 1189 / H, y1=1 - 1162 / H,
                       fillcolor=fc, line=dict(color=lc, width=1.2)))
    annotations.append(dict(x=txx / W, y=1 - 1176 / H, xref="paper", yref="paper", text=name, showarrow=False,
                            xanchor="left", yanchor="middle", align="left",
                            font=dict(family="Lato", size=13.5, color="#111111")))

layout["shapes"] = shapes
layout["annotations"] = annotations
fig.update_layout(**layout)

fig.write_html("out.html", config={"displayModeBar": False},
               post_script="document.body.style.margin='0px';")
